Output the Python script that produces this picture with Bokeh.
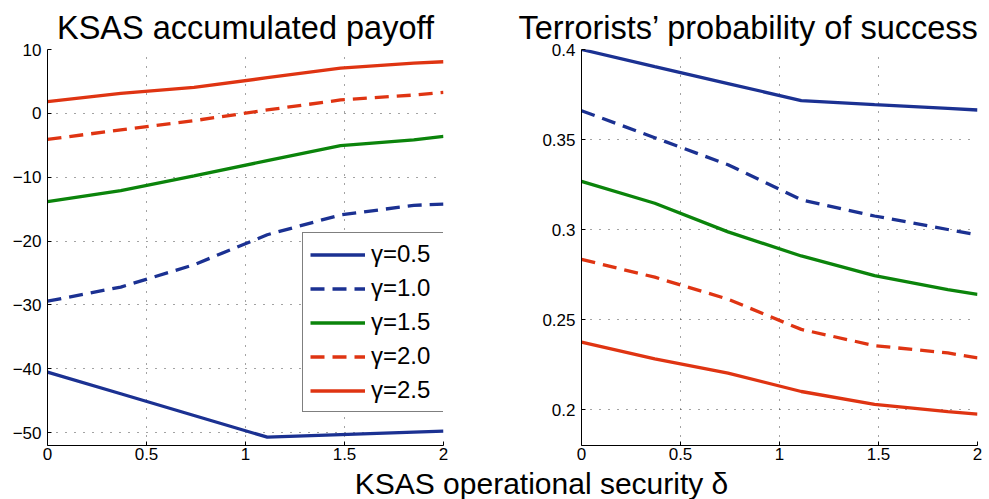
from bokeh.plotting import figure
from bokeh.layouts import column, row
from bokeh.models import FixedTicker, Legend, LegendItem, Range1d
from bokeh.core.properties import value
from bokeh.embed import file_html
from bokeh.resources import INLINE

# ---- data -------------------------------------------------------------
delta = [0.0, 0.37, 0.74, 1.11, 1.48, 1.85, 2.0]
gamma_labels = ["γ=0.5", "γ=1.0", "γ=1.5", "γ=2.0", "γ=2.5"]

# KSAS accumulated payoff, one list per gamma
payoff_g05 = [-40.5, -43.9, -47.3, -50.7, -50.3, -49.9, -49.75]
payoff_g10 = [-29.4, -27.2, -23.7, -19.0, -15.9, -14.4, -14.2]
payoff_g15 = [-13.8, -12.1, -9.8, -7.4, -5.05, -4.16, -3.6]
payoff_g20 = [-4.06, -2.6, -1.14, 0.53, 2.1, 2.87, 3.28]
payoff_g25 = [1.83, 3.13, 4.06, 5.58, 7.1, 7.87, 8.08]

# Terrorists' probability of success, one list per gamma
prob_g05 = [0.400, 0.3905, 0.3811, 0.3716, 0.3694, 0.3673, 0.3664]
prob_g10 = [0.366, 0.351, 0.336, 0.3165, 0.3075, 0.300, 0.297]
prob_g15 = [0.3267, 0.3146, 0.2987, 0.2853, 0.2744, 0.2666, 0.264]
prob_g20 = [0.2834, 0.2735, 0.2613, 0.2445, 0.2355, 0.2314, 0.2287]
prob_g25 = [0.2374, 0.2281, 0.2202, 0.2100, 0.2029, 0.1988, 0.1974]

x_ticks = [0, 0.5, 1, 1.5, 2]
x_tick_labels = ["0", "0.5", "1", "1.5", "2"]
payoff_ticks = [-50, -40, -30, -20, -10, 0, 10]
payoff_tick_labels = ["\u221250", "\u221240", "\u221230", "\u221220", "\u221210", "0", "10"]
prob_ticks = [0.2, 0.25, 0.3, 0.35, 0.4]
prob_tick_labels = ["0.2", "0.25", "0.3", "0.35", "0.4"]

# ---- styling ----------------------------------------------------------
FONT = "Liberation Sans"
BLUE = "#1b3192"
GREEN = "#0b840b"
RED = "#df3412"
series_style = [
    (BLUE, "solid"),
    (BLUE, "14 8"),
    (GREEN, "solid"),
    (RED, "14 8"),
    (RED, "solid"),
]
LINE_W = 3.3
TOTAL_H = 499
ROW_H = 465
FRAME_BOTTOM = 445


def make_panel(width, left, right, top, y_lo, y_hi, y_ticks, y_labels, title):
    p = figure(
        width=width, height=ROW_H,
        x_range=Range1d(0, 2), y_range=Range1d(y_lo, y_hi),
        min_border_left=left, min_border_right=right,
        min_border_top=top, min_border_bottom=ROW_H - FRAME_BOTTOM,
        output_backend="svg", toolbar_location=None,
        title=title,
    )
    p.outline_line_color = None
    p.background_fill_color = "white"
    p.border_fill_color = "white"

    p.title.text_font = FONT
    p.title.text_font_size = "32.5px"
    p.title.text_font_style = "normal"
    p.title.text_color = "black"
    p.title.standoff = 8

    p.xaxis.ticker = FixedTicker(ticks=x_ticks)
    p.xaxis.major_label_overrides = dict(zip(x_ticks, x_tick_labels))
    p.yaxis.ticker = FixedTicker(ticks=y_ticks)
    p.yaxis.major_label_overrides = dict(zip(y_ticks, y_labels))

    for ax in list(p.xaxis) + list(p.yaxis):
        ax.axis_line_color = "black"
        ax.axis_line_width = 1
        ax.major_tick_line_color = "black"
        ax.major_tick_in = 4
        ax.major_tick_out = 0
        ax.minor_tick_line_color = None
        ax.major_label_text_font = FONT
        ax.major_label_text_font_size = "17px"
        ax.major_label_text_color = "black"
    p.xaxis.major_label_standoff = 2
    p.yaxis.major_label_standoff = 6

    for g in (p.xgrid, p.ygrid):
        g.grid_line_color = "#333333"
        g.grid_line_dash = "1 8"
        g.grid_line_width = 1
        g.grid_line_alpha = 0.9
    return p


# ---- left panel: accumulated payoff -----------------------------------
left = make_panel(510, 47, 67, 48, -52, 10, payoff_ticks, payoff_tick_labels,
                  "KSAS accumulated payoff")
left.title.align = "center"

payoffs = [payoff_g05, payoff_g10, payoff_g15, payoff_g20, payoff_g25]
renderers = []
for ys, (color, dash) in zip(payoffs, series_style):
    r = left.line(delta, ys, line_color=color, line_width=LINE_W, line_dash=dash)
    renderers.append(r)

legend = Legend(
    items=[LegendItem(label=lab, renderers=[r]) for lab, r in zip(gamma_labels, renderers)],
    location=(255, 33),
    margin=0, padding=7, spacing=6,
    glyph_width=55, glyph_height=27, label_height=27, label_width=66,
    label_standoff=6,
    label_text_font=FONT, label_text_font_size="24px", label_text_color="black",
    border_line_color="black", border_line_width=1,
    background_fill_color="white", background_fill_alpha=1.0,
)
left.add_layout(legend)

# ---- right panel: probability of success -------------------------------
right = make_panel(479, 71, 12, 49, 0.18, 0.4, prob_ticks, prob_tick_labels,
                   "Terrorists\u2019 probability of success")
right.title.align = "left"
right.title.offset = -63

probs = [prob_g05, prob_g10, prob_g15, prob_g20, prob_g25]
for ys, (color, dash) in zip(probs, series_style):
    right.line(delta, ys, line_color=color, line_width=LINE_W, line_dash=dash)

# ---- shared x label (a bare strip with no axes, title or toolbar) ------
strip_h = TOTAL_H - ROW_H
xlab = figure(
    width=989, height=strip_h, title=None,
    x_range=Range1d(0, 989), y_range=Range1d(0, strip_h),
    x_axis_location=None, y_axis_location=None,
    min_border=0, output_backend="svg", toolbar_location=None,
)
xlab.grid.visible = False
xlab.outline_line_color = None
xlab.text(x=[541], y=[strip_h - 1], text=["KSAS operational security \u03b4"],
          text_font=value(FONT), text_font_size="30px", text_color="black",
          text_align="center", text_baseline="top")

layout = column(row(left, right), xlab)
open("out.html", "w").write(file_html(layout, INLINE))
